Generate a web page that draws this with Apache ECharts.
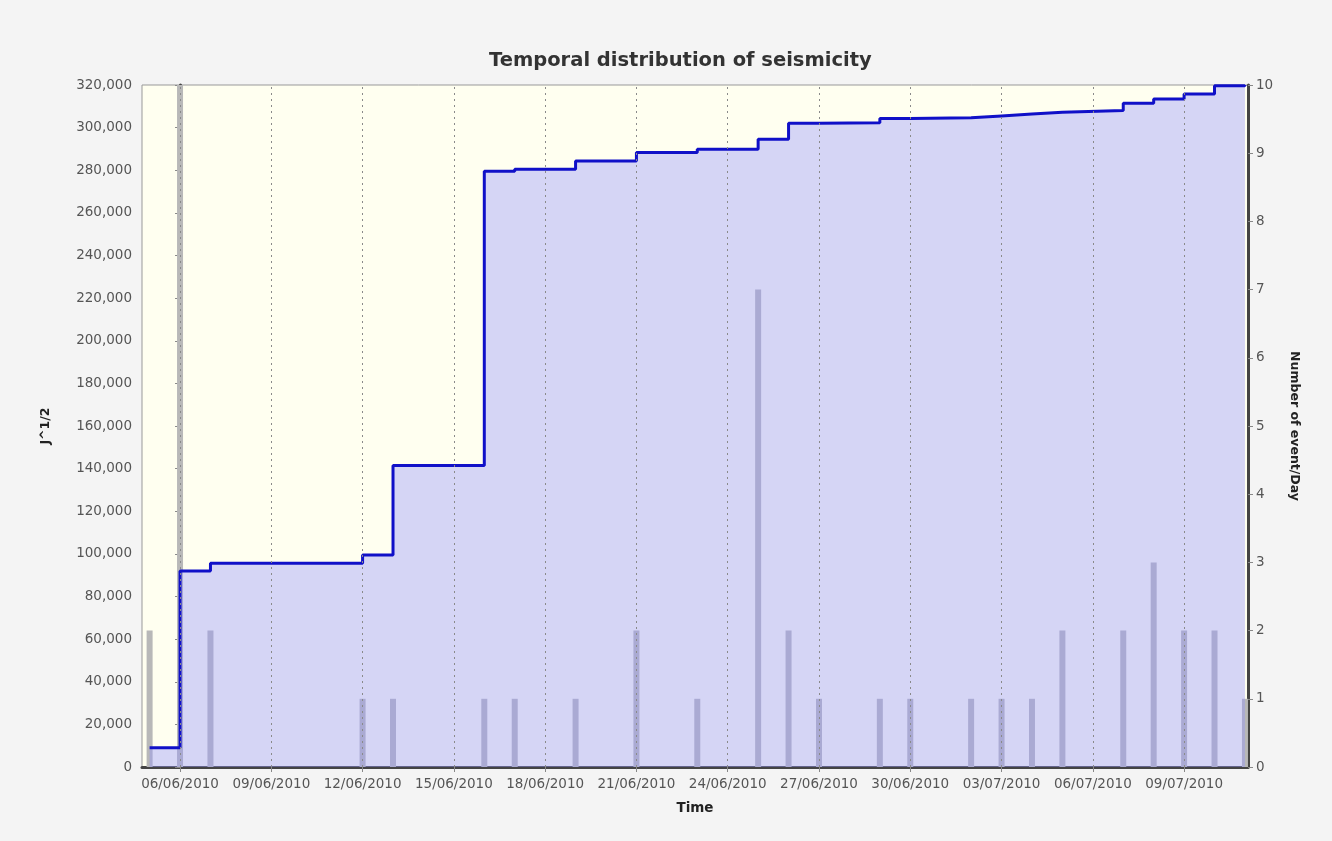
<!DOCTYPE html>
<html>
<head>
<meta charset="utf-8">
<title>Temporal distribution of seismicity</title>
<script src="https://cdn.jsdelivr.net/npm/echarts@6/dist/echarts.min.js"></script>
<style>
  html, body { margin: 0; padding: 0; background: #f4f4f4; }
  #chart { width: 1332px; height: 841px; }
</style>
</head>
<body>
<div id="chart"></div>
<script>
// event days (one bar per day)
const eventDates = [
  '2010-06-05', '2010-06-06', '2010-06-07', '2010-06-12', '2010-06-13',
  '2010-06-16', '2010-06-17', '2010-06-19', '2010-06-21', '2010-06-23',
  '2010-06-25', '2010-06-26', '2010-06-27', '2010-06-29', '2010-06-30',
  '2010-07-02', '2010-07-03', '2010-07-04', '2010-07-05', '2010-07-07',
  '2010-07-08', '2010-07-09', '2010-07-10', '2010-07-11'
]
const eventsPerDay = [2, 14, 2, 1, 1, 1, 1, 1, 2, 1, 7, 2, 1, 1, 1, 1, 1, 1, 2, 2, 3, 2, 2, 1]
// cumulative J^1/2 after each event day
const cumulative = [
  9000, 92000, 95600, 99500, 141500,
  279500, 280500, 284300, 288300, 289800,
  294500, 302000, 302300, 304300, 304600,
  305500, 306400, 307200, 308000, 311400,
  313400, 315800, 319600, 320000
]
// x axis tick labels, every 3 days
const tickDates = [
  '2010-06-06', '2010-06-09', '2010-06-12', '2010-06-15', '2010-06-18', '2010-06-21',
  '2010-06-24', '2010-06-27', '2010-06-30', '2010-07-03', '2010-07-06', '2010-07-09'
]

const DAY = 86400000
const base = Date.UTC(2010, 5, 6)
const toDay = (s) => {
  const p = s.split('-')
  return (Date.UTC(+p[0], +p[1] - 1, +p[2]) - base) / DAY
}
const fmtDay = (v) => {
  const d = new Date(base + Math.round(v) * DAY)
  const dd = String(d.getUTCDate()).padStart(2, '0')
  const mm = String(d.getUTCMonth() + 1).padStart(2, '0')
  return dd + '/' + mm + '/' + d.getUTCFullYear()
}

const days = eventDates.map(toDay)
const ticks = tickDates.map(toDay)
const barData = days.map((d, i) => [d, eventsPerDay[i]])
const lineData = days.map((d, i) => [d, cumulative[i]])

const FONT = 'DejaVu Sans, Verdana, sans-serif'
const labelFont = { fontFamily: FONT, fontSize: 13.5, color: '#555' }
const nameFont = { fontFamily: FONT, fontSize: 12.5, fontWeight: 'bold', color: '#222' }

const chart = echarts.init(document.getElementById('chart'))
chart.setOption({
  backgroundColor: '#f4f4f4',
  animation: false,
  title: {
    text: 'Temporal distribution of seismicity',
    left: 484,
    top: 46,
    textStyle: { fontFamily: FONT, fontSize: 19.5, fontWeight: 'bold', color: '#333' }
  },
  grid: {
    left: 142, right: 84, top: 85, bottom: 74,
    show: true,
    backgroundColor: '#fffff0',
    borderColor: '#999',
    borderWidth: 1
  },
  xAxis: {
    type: 'value',
    min: -1.25,
    max: 35.1,
    name: 'Time',
    nameLocation: 'middle',
    nameGap: 34,
    nameTextStyle: { ...nameFont, fontSize: 13.5 },
    axisLine: { lineStyle: { color: '#444', width: 3 } },
    axisTick: { show: true, customValues: ticks, length: 5, lineStyle: { color: '#888' } },
    axisLabel: { ...labelFont, customValues: ticks, margin: 10, formatter: fmtDay },
    splitLine: { show: false }
  },
  yAxis: [
    {
      type: 'value',
      min: 0,
      max: 320000,
      interval: 20000,
      name: 'J^1/2',
      nameLocation: 'middle',
      nameGap: 90,
      nameTextStyle: nameFont,
      axisLine: { show: true, lineStyle: { color: '#444', width: 3 } },
      axisTick: { show: true, length: 5, lineStyle: { color: '#888' } },
      axisLabel: { ...labelFont, margin: 10, formatter: (v) => v.toLocaleString('en-US') },
      splitLine: { show: false }
    },
    {
      type: 'value',
      min: 0,
      max: 10,
      interval: 1,
      position: 'right',
      name: 'Number of event/Day',
      nameLocation: 'middle',
      nameRotate: -90,
      nameGap: 40,
      nameTextStyle: nameFont,
      axisLine: { show: true, lineStyle: { color: '#444', width: 3 } },
      axisTick: { show: true, length: 5, lineStyle: { color: '#888' } },
      axisLabel: { ...labelFont, margin: 8 },
      splitLine: { show: false }
    }
  ],
  series: [
    {
      name: 'Number of event/Day',
      type: 'bar',
      yAxisIndex: 1,
      data: barData,
      barWidth: 6,
      clip: true,
      itemStyle: { color: '#b8b8b8' },
      markLine: {
        silent: true,
        symbol: 'none',
        label: { show: false },
        lineStyle: { color: '#8a8a8a', type: [2, 4], width: 1 },
        data: ticks.map((t) => ({ xAxis: t }))
      }
    },
    {
      name: 'J^1/2',
      type: 'line',
      yAxisIndex: 0,
      step: 'end',
      data: lineData,
      symbol: 'none',
      lineStyle: { color: '#1010c8', width: 3 },
      areaStyle: { color: 'rgba(150,150,252,0.4)', opacity: 1 }
    }
  ]
})
</script>
</body>
</html>
